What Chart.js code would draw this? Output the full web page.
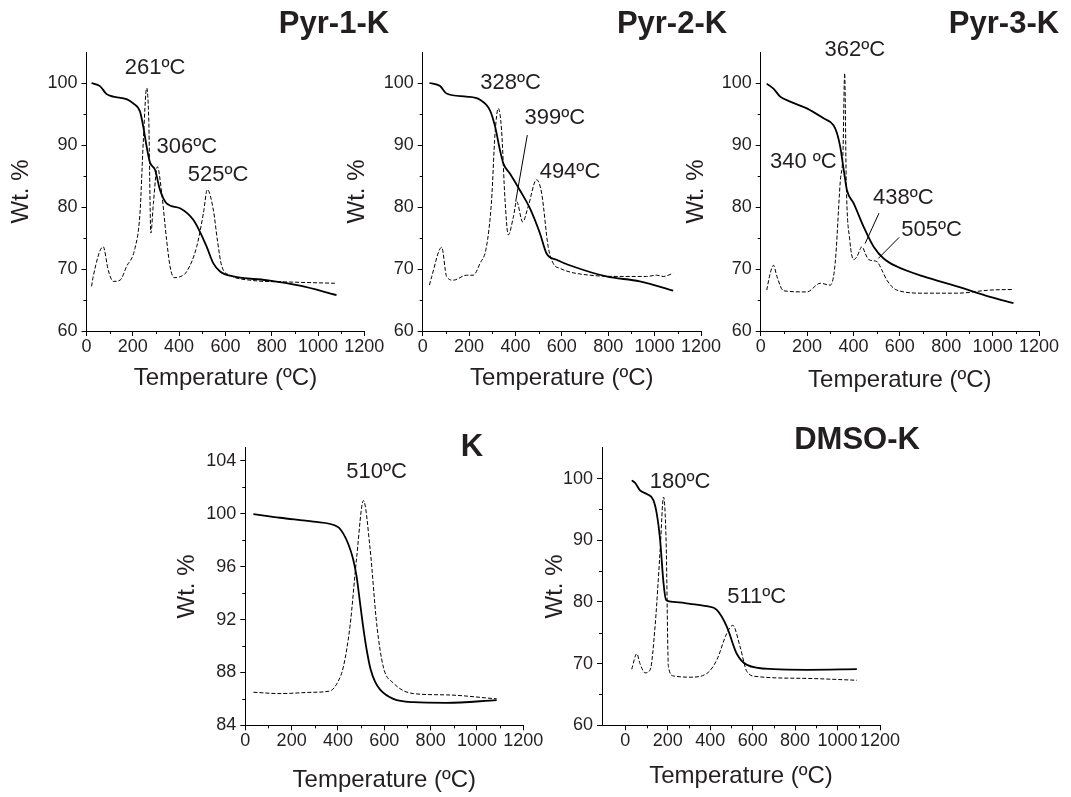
<!DOCTYPE html>
<html>
<head>
<meta charset="utf-8">
<script src="https://cdn.jsdelivr.net/npm/chart.js@4.4.1/dist/chart.umd.min.js"></script>
<style>
  body { margin: 0; background: #fff; width: 1071px; height: 797px; position: relative; overflow: hidden; }
  canvas { position: absolute; }
</style>
</head>
<body>
<canvas id="pyr1"></canvas>
<canvas id="pyr2"></canvas>
<canvas id="pyr3"></canvas>
<canvas id="kaol"></canvas>
<canvas id="dmso"></canvas>
<script>
// Datos: TGA (línea continua) y DTG (línea discontinua)
const pyr1Temp = [22, 58, 87, 116, 173, 202, 231, 245, 260, 274, 296, 318, 346, 404, 462, 490, 519, 548, 577, 634, 778, 922, 1080];
const pyr1Wt = [100.0, 99.5, 98.2, 97.8, 97.4, 96.7, 95.4, 93.0, 89.7, 87.2, 86.0, 82.7, 80.6, 79.8, 77.9, 76.0, 73.6, 70.9, 69.6, 68.8, 68.2, 67.3, 65.8];
const pyr1DtgTemp = [22, 29, 72, 94, 116, 145, 173, 209, 231, 245, 260, 269, 278, 289, 306, 325, 346, 361, 378, 400, 433, 476, 505, 522, 548, 566, 584, 620, 706, 878, 1073];
const pyr1Dtg = [67.2, 68.8, 73.6, 69.8, 68.0, 68.2, 70.4, 73.3, 79.0, 90.3, 99.2, 94.0, 75.8, 80.6, 86.5, 82.2, 74.7, 70.4, 68.6, 68.7, 69.6, 73.6, 79.0, 82.8, 79.5, 74.5, 70.5, 69.0, 68.2, 67.9, 67.7];

const pyr2Temp = [29, 75, 103, 189, 247, 290, 312, 333, 348, 376, 419, 462, 505, 534, 577, 649, 792, 936, 1080];
const pyr2Wt = [100.0, 99.5, 98.3, 97.8, 97.3, 95.6, 93.0, 89.2, 87.0, 85.4, 82.7, 79.8, 75.8, 72.5, 71.5, 70.4, 68.8, 68.0, 66.5];
const pyr2DtgTemp = [29, 39, 82, 103, 132, 189, 218, 247, 275, 297, 312, 326, 340, 355, 369, 391, 405, 431, 455, 491, 513, 541, 563, 592, 721, 864, 965, 1008, 1037, 1080];
const pyr2Dtg = [67.4, 68.8, 73.5, 68.8, 68.2, 69.0, 69.0, 70.9, 73.6, 81.1, 91.9, 95.9, 92.4, 81.1, 75.5, 78.4, 80.9, 77.6, 80.1, 84.4, 82.2, 73.6, 70.9, 70.1, 69.0, 68.8, 68.8, 69.0, 68.8, 69.3];

const pyr3Temp = [26, 55, 84, 127, 199, 271, 314, 329, 343, 358, 372, 401, 444, 487, 530, 587, 702, 846, 989, 1090];
const pyr3Wt = [99.9, 99.1, 97.8, 97.0, 95.9, 94.3, 93.2, 91.9, 89.7, 86.0, 82.7, 80.6, 76.8, 73.6, 71.7, 70.4, 68.8, 67.2, 65.5, 64.5];
const pyr3DtgTemp = [26, 41, 55, 70, 98, 199, 257, 300, 321, 343, 355, 362, 369, 384, 401, 415, 437, 451, 466, 501, 523, 544, 587, 702, 846, 989, 1090];
const pyr3Dtg = [66.6, 69.3, 70.6, 68.8, 66.5, 66.3, 67.7, 67.4, 70.9, 84.1, 89.2, 101.6, 83.8, 74.7, 71.5, 72.0, 73.6, 72.5, 71.5, 71.2, 69.8, 68.2, 66.6, 66.1, 66.1, 66.6, 66.7];

const kTemp = [35, 150, 294, 400, 423, 445, 465, 480, 495, 510, 525, 540, 560, 582, 639, 725, 869, 1085];
const kWt = [99.98, 99.7, 99.4, 99.0, 98.5, 97.7, 96.6, 95.3, 93.3, 91.3, 89.6, 88.3, 87.3, 86.7, 86.0, 85.75, 85.7, 85.9];
const kDtgTemp = [35, 150, 294, 366, 400, 423, 452, 481, 510, 539, 567, 596, 639, 725, 869, 1085];
const kDtg = [86.5, 86.4, 86.5, 86.6, 87.3, 88.4, 91.5, 96.75, 101.0, 97.3, 91.7, 88.4, 87.2, 86.4, 86.3, 86.0];

const dmsoTemp = [30, 46, 69, 101, 132, 148, 164, 180, 192, 227, 305, 384, 431, 478, 525, 573, 699, 856, 1091];
const dmsoWt = [99.7, 99.3, 98.1, 97.5, 96.5, 94.3, 90.0, 83.0, 80.3, 80.0, 79.7, 79.3, 78.7, 76.0, 71.6, 69.8, 69.1, 69.0, 69.1];
const dmsoDtgTemp = [30, 54, 69, 93, 117, 140, 164, 180, 192, 203, 227, 305, 384, 431, 478, 506, 541, 573, 620, 856, 1091];
const dmsoDtg = [69.1, 71.6, 70.0, 68.5, 69.0, 76.0, 88.4, 97.0, 90.0, 69.5, 68.0, 67.8, 68.4, 70.6, 74.9, 76.2, 72.7, 68.7, 67.9, 67.6, 67.3];

// Ticks
const tempTicks = [0, 200, 400, 600, 800, 1000, 1200];
const tempMinor = [100, 300, 500, 700, 900, 1100];
const wtTicks = [60, 70, 80, 90, 100];
const wtMinor = [65, 75, 85, 95];
const kWtTicks = [84, 88, 92, 96, 100, 104];
const kWtMinor = [86, 90, 94, 98, 102];

const FAMILIA = "'Liberation Sans', Arial, Helvetica, sans-serif";
const TINTA = "#231f20";

// Plugin: ticks menores hacia fuera
const menoresPlugin = {
  id: "menores",
  afterDraw(chart, args, opts) {
    const { ctx, scales: { x, y } } = chart;
    ctx.save();
    ctx.strokeStyle = "#000";
    ctx.lineWidth = 1;
    ctx.beginPath();
    opts.x.forEach((v) => {
      const px = Math.round(x.getPixelForValue(v)) + 0.5;
      ctx.moveTo(px, x.top);
      ctx.lineTo(px, x.top + 3);
    });
    opts.y.forEach((v) => {
      const py = Math.round(y.getPixelForValue(v)) + 0.5;
      ctx.moveTo(y.right, py);
      ctx.lineTo(y.right - 3, py);
    });
    ctx.stroke();
    ctx.restore();
  },
};

// Plugin: títulos de panel, temperaturas de pico y líneas guía
const textosPlugin = {
  id: "textos",
  afterDraw(chart, args, opts) {
    const { ctx, scales: { x, y } } = chart;
    ctx.save();
    ctx.fillStyle = TINTA;
    ctx.textAlign = "center";
    ctx.textBaseline = "middle";
    opts.items.forEach((t) => {
      ctx.font = t.bold ? `bold 31px ${FAMILIA}` : `22px ${FAMILIA}`;
      ctx.fillText(t.text, x.getPixelForValue(t.x), y.getPixelForValue(t.y));
    });
    ctx.strokeStyle = "#000";
    ctx.lineWidth = 1;
    opts.lines.forEach((l) => {
      ctx.beginPath();
      ctx.moveTo(x.getPixelForValue(l[0]), y.getPixelForValue(l[1]));
      ctx.lineTo(x.getPixelForValue(l[2]), y.getPixelForValue(l[3]));
      ctx.stroke();
    });
    ctx.restore();
  },
};

const puntos = (xs, ys) => xs.map((x, i) => ({ x, y: ys[i] }));

const crearPanel = (id, caja, ejes, temp, wt, dtgTemp, dtg, items, lines) => {
  const canvas = document.getElementById(id);
  canvas.width = caja.w;
  canvas.height = caja.h;
  canvas.style.left = caja.l + "px";
  canvas.style.top = caja.t + "px";

  const fuenteTicks = { family: FAMILIA, size: 18 };
  const fuenteTitulo = { family: FAMILIA, size: 24 };

  return new Chart(canvas, {
    type: "line",
    data: {
      datasets: [
        {
          data: puntos(temp, wt),
          borderColor: "#000",
          borderWidth: 1.8,
          pointRadius: 0,
          cubicInterpolationMode: "monotone",
        },
        {
          data: puntos(dtgTemp, dtg),
          borderColor: "#000",
          borderWidth: 1,
          borderDash: [4, 2],
          pointRadius: 0,
          cubicInterpolationMode: "monotone",
        },
      ],
    },
    options: {
      responsive: false,
      animation: false,
      events: [],
      layout: { padding: { left: 0, top: caja.pt, right: caja.pr, bottom: 0 } },
      plugins: {
        legend: { display: false },
        tooltip: { enabled: false },
        menores: { x: tempMinor, y: ejes.yMinor },
        textos: { items, lines },
      },
      scales: {
        x: {
          type: "linear",
          min: ejes.xMin,
          max: 1200,
          afterBuildTicks: (ax) => { ax.ticks = tempTicks.map((v) => ({ value: v })); },
          afterFit: (ax) => { ax.height = caja.xh; ax.paddingLeft = 0; ax.paddingRight = 0; },
          grid: { display: true, drawOnChartArea: false, drawTicks: true, tickLength: 5, tickColor: "#000", color: "#000" },
          border: { display: true, color: "#000", width: 1 },
          ticks: { color: TINTA, font: fuenteTicks, padding: 0, maxRotation: 0, autoSkip: false, callback: (v) => String(v) },
          title: { display: true, text: "Temperature (ºC)", color: TINTA, font: fuenteTitulo, padding: { top: 0, bottom: caja.xtp } },
        },
        y: {
          type: "linear",
          min: ejes.yMin,
          max: ejes.yMax,
          afterBuildTicks: (ax) => { ax.ticks = ejes.yTicks.map((v) => ({ value: v })); },
          afterFit: (ax) => { ax.width = caja.yw; ax.paddingTop = 0; ax.paddingBottom = 0; },
          grid: { display: true, drawOnChartArea: false, drawTicks: true, tickLength: 5, tickColor: "#000", color: "#000" },
          border: { display: true, color: "#000", width: 1 },
          ticks: { color: TINTA, font: fuenteTicks, padding: 4, autoSkip: false, callback: (v) => String(v) },
          title: { display: true, text: "Wt. %", color: TINTA, font: fuenteTitulo, padding: { top: caja.ytp, bottom: 0 } },
        },
      },
    },
    plugins: [menoresPlugin, textosPlugin],
  });
};

const ejesWt = { xMin: 0, yMin: 60, yMax: 105, yTicks: wtTicks, yMinor: wtMinor };

crearPanel("pyr1",
  { l: 0, t: 0, w: 395, h: 400, pt: 52, pr: 30.7, yw: 86.5, xh: 69, ytp: 7, xtp: 7 },
  ejesWt, pyr1Temp, pyr1Wt, pyr1DtgTemp, pyr1Dtg,
  [
    { text: "Pyr-1-K", x: 1069, y: 109.5, bold: true },
    { text: "261ºC", x: 296, y: 102.4 },
    { text: "306ºC", x: 433, y: 89.7 },
    { text: "525ºC", x: 568, y: 85.2 },
  ],
  []);

crearPanel("pyr2",
  { l: 340, t: 0, w: 390, h: 400, pt: 52, pr: 29, yw: 82.7, xh: 69, ytp: 3, xtp: 7 },
  ejesWt, pyr2Temp, pyr2Wt, pyr2DtgTemp, pyr2Dtg,
  [
    { text: "Pyr-2-K", x: 1075, y: 109.5, bold: true },
    { text: "328ºC", x: 379, y: 100.0 },
    { text: "399ºC", x: 570, y: 94.3 },
    { text: "494ºC", x: 635, y: 85.7 },
  ],
  [[451, 91.6, 401, 80.9]]);

crearPanel("pyr3",
  { l: 680, t: 0, w: 391, h: 400, pt: 52, pr: 32, yw: 80.7, xh: 69, ytp: 2, xtp: 5 },
  ejesWt, pyr3Temp, pyr3Wt, pyr3DtgTemp, pyr3Dtg,
  [
    { text: "Pyr-3-K", x: 1049, y: 109.5, bold: true },
    { text: "362ºC", x: 406, y: 105.3 },
    { text: "340 ºC", x: 184, y: 87.3 },
    { text: "438ºC", x: 615, y: 81.4 },
    { text: "505ºC", x: 737, y: 76.3 },
  ],
  [[510, 79.0, 450, 74.1], [597, 75.1, 507, 71.7]]);

crearPanel("kaol",
  { l: 160, t: 400, w: 390, h: 397, pt: 47.7, pr: 26.7, yw: 85.3, xh: 71.7, ytp: 13, xtp: 2 },
  { xMin: 0, yMin: 84, yMax: 105, yTicks: kWtTicks, yMinor: kWtMinor },
  kTemp, kWt, kDtgTemp, kDtg,
  [
    { text: "K", x: 978, y: 105.0, bold: true },
    { text: "510ºC", x: 567, y: 103.2 },
  ],
  []);

crearPanel("dmso",
  { l: 540, t: 400, w: 390, h: 397, pt: 47.7, pr: 50, yw: 62, xh: 71.7, ytp: 1, xtp: 6 },
  { xMin: -110, yMin: 60, yMax: 105, yTicks: wtTicks, yMinor: wtMinor },
  dmsoTemp, dmsoWt, dmsoDtgTemp, dmsoDtg,
  [
    { text: "DMSO-K", x: 1092, y: 106.1, bold: true },
    { text: "180ºC", x: 258, y: 99.45 },
    { text: "511ºC", x: 619, y: 80.8 },
  ],
  []);
</script>
</body>
</html>
